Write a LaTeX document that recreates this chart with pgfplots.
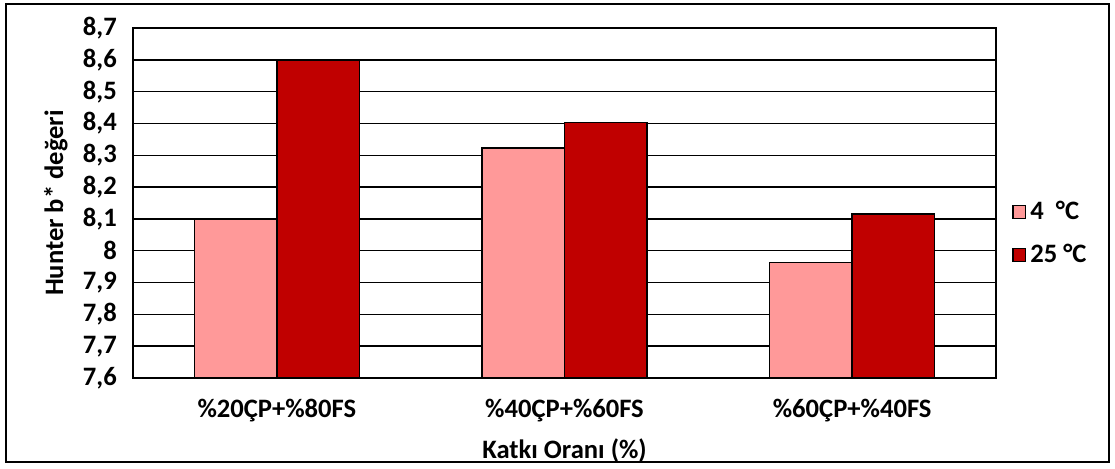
\documentclass[border=0pt]{standalone}
\usepackage{pgfplots}
\pgfplotsset{compat=1.18}
\usepackage{fontspec}
\setmainfont{Carlito}
\definecolor{lightred}{HTML}{FF9999}
\definecolor{darkred}{HTML}{C00000}
\newcommand{\chartfont}{\fontsize{13.3}{16}\selectfont\bfseries}
\begin{document}
\begin{tikzpicture}[x=1pt,y=1pt]
\path[use as bounding box] (0,0) rectangle (557.5,234);
\draw[line width=1pt,black] (3,3) rectangle (554.5,232);
\begin{axis}[
  at={(66.5pt,45pt)}, anchor=south west,
  scale only axis, width=431.5pt, height=175pt,
  ybar=0pt, bar width=41.25pt,
  xmin=-0.5, xmax=2.5, ymin=7.6, ymax=8.7,
  xtick={0,1,2},
  xticklabels={\%20ÇP+\%80FS,\%40ÇP+\%60FS,\%60ÇP+\%40FS},
  ytick={7.6,7.7,7.8,7.9,8,8.1,8.2,8.3,8.4,8.5,8.6,8.7},
  major tick length=0pt,
  ymajorgrids=true,
  grid style={black, line width=0.7pt},
  axis line style={black, line width=0.7pt},
  /pgf/number format/.cd, use comma, assume math mode=true, precision=2,
  /pgfplots/.cd,
  tick label style={font=\chartfont},
  yticklabel style={anchor=east, xshift=-4.6pt},
  xticklabel style={anchor=base, yshift=-19.5pt},
  every axis x label/.style={at={(axis description cs:0.5,0)}, anchor=base, yshift=-40pt, font=\chartfont},
  every axis y label/.style={at={(axis description cs:-0.0895,0.5)}, rotate=90, anchor=center, font=\chartfont},
  xlabel={Katkı Oranı (\%)},
  ylabel={Hunter b* değeri},
  legend style={at={(1,0.413)}, anchor=west, xshift=8pt, draw=none, fill=none, font=\chartfont, row sep=7pt, inner sep=0pt},
  legend cell align=left,
  legend image code/.code={\draw[#1, line width=0.6pt] (0pt,-3.2pt) rectangle (6.4pt,3.2pt);},
]
\addplot[fill=lightred, draw=black, line width=0.8pt] coordinates {(0,8.10) (1,8.322) (2,7.963)};
\addplot[fill=darkred, draw=black, line width=0.8pt] coordinates {(0,8.598) (1,8.403) (2,8.116)};
\legend{4~ °C, 25 °C}
\end{axis}
\end{tikzpicture}
\end{document}
